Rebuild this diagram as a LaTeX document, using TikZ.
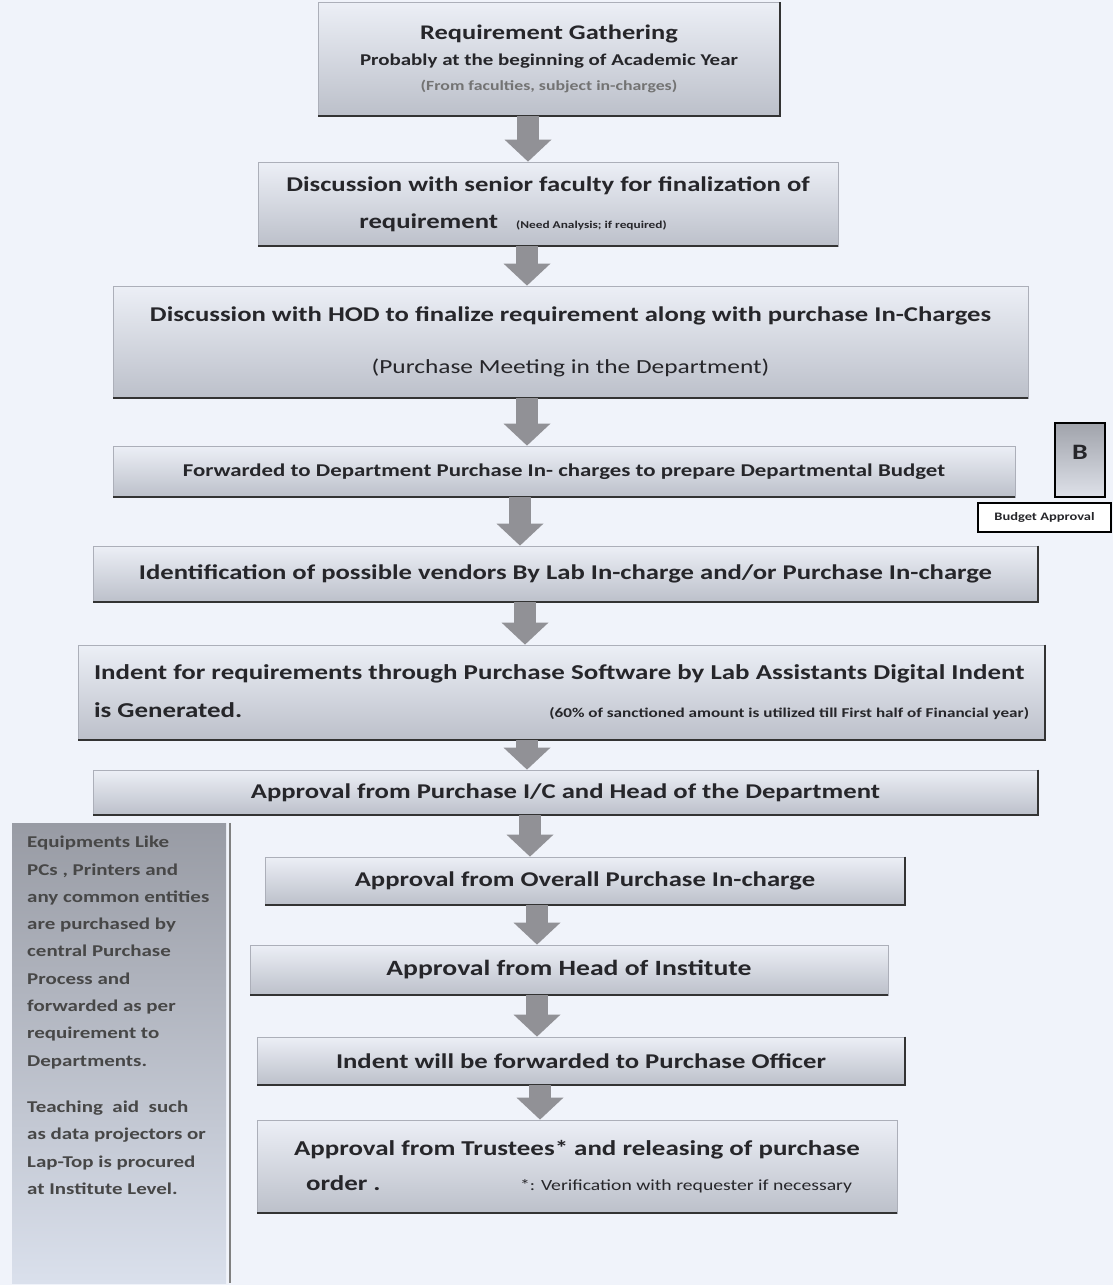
\documentclass[tikz,border=0pt]{standalone}
\usepackage{fontspec}
\setmainfont{Carlito}[FakeStretch=1.27]
\usetikzlibrary{arrows.meta}

\definecolor{paper}{RGB}{240,243,250}
\definecolor{boxtop}{RGB}{236,239,246}
\definecolor{boxbot}{RGB}{188,192,202}
\definecolor{boxline}{RGB}{172,175,185}
\definecolor{flowgray}{RGB}{145,145,150}
\definecolor{ink}{RGB}{38,38,42}
\newcommand\fsz[2]{\fontsize{#1}{#2}\selectfont}

\tikzset{
  stage/.style={rectangle, top color=boxtop, bottom color=boxbot, draw=boxline,
    line width=0.8pt, text=ink, font=\bfseries\fsz{21}{25}, inner sep=0pt, align=center},
  edge/.style={line width=2pt, black!80},
  flow/.style={line width=22pt, flowgray, -{Triangle[length=22pt,width=47pt,line width=0pt]}},
}

\begin{document}
\begin{tikzpicture}[x=1pt,y=-1pt]
  \fill[paper] (0,0) rectangle (1113,1285);
  \useasboundingbox (0,0) rectangle (1113,1285);

  % main column
  \node[stage, font=\bfseries\fsz{20.8}{25.5}, minimum width=462pt, minimum height=113pt] (gather) at (549,59)
    {Requirement Gathering\\
     \fsz{16.5}{25.5}Probably at the beginning of Academic Year\\
     \fsz{14}{25.5}\color{black!55}(From faculties, subject in-charges)};
  \node[stage, font=\bfseries\fsz{21}{37}, minimum width=580pt, minimum height=84pt] (discuss) at (548,204)
    {Discussion with senior faculty for finalization of\\
     requirement\hspace{18pt}{\fsz{10.5}{37}(Need Analysis; if required)}\hspace*{70pt}};
  \node[stage, font=\bfseries\fsz{21}{52}, minimum width=915pt, minimum height=112pt] (hodmeet) at (570.5,342)
    {Discussion with HOD to finalize requirement along with purchase In-Charges\\
     \mdseries\fsz{20}{52}(Purchase Meeting in the Department)};
  \node[stage, font=\bfseries\fsz{18}{22}, minimum width=902pt, minimum height=51pt] (forward) at (564,471.5)
    {Forwarded to Department Purchase In- charges to prepare Departmental Budget};
  \node[stage, minimum width=945pt, minimum height=56pt] (vendors) at (565.5,574)
    {Identification of possible vendors By Lab In-charge and/or Purchase In-charge};
  \node[stage, font=\bfseries\fsz{21.2}{38}, minimum width=967pt, minimum height=95pt, align=left] (indent) at (561.5,692.5)
    {Indent for requirements through Purchase Software by Lab Assistants Digital Indent\\
     \makebox[935pt][l]{is Generated.\hfill{\fsz{13.5}{38}(60\% of sanctioned amount is utilized till First half of Financial year)}}};
  \node[stage, minimum width=945pt, minimum height=45pt] (approvepic) at (565.5,792.5)
    {Approval from Purchase I/C and Head of the Department};
  \node[stage, minimum width=640pt, minimum height=48pt] (approveall) at (585,881)
    {Approval from Overall Purchase In-charge};
  \node[stage, font=\bfseries\fsz{21.8}{25}, minimum width=638pt, minimum height=50pt] (approvehead) at (569,970)
    {Approval from Head of Institute};
  \node[stage, minimum width=648pt, minimum height=48pt] (officer) at (581,1061)
    {Indent will be forwarded to Purchase Officer};
  \node[stage, font=\bfseries\fsz{21.2}{35}, minimum width=640pt, minimum height=93pt, align=left] (trustees) at (577,1166.5)
    {Approval from Trustees* and releasing of purchase\\
     \makebox[558pt][l]{\hspace{12pt}order .\hfill{\mdseries\fsz{15.5}{35}*: Verification with requester if necessary}}};

  % budget side
  \node[rectangle, top color={rgb,255:red,160;green,163;blue,171}, bottom color={rgb,255:red,222;green,225;blue,233},
    draw=black, line width=2pt, minimum width=50pt, minimum height=74pt, font=\bfseries\fsz{22}{26}, text=ink] (bbox) at (1080,460)
    {\raisebox{16pt}{B}};
  \node[rectangle, fill=white, draw=black, line width=1.5pt, minimum width=133pt, minimum height=29pt,
    font=\bfseries\fsz{11.4}{13}, text=ink] (budget) at (1044.5,517.5) {Budget Approval};

  % left note
  \node[rectangle, top color={rgb,255:red,152;green,155;blue,164}, bottom color={rgb,255:red,218;green,224;blue,236},
    minimum width=214pt, minimum height=460pt, inner sep=0pt] (side) at (119,1053) {};
  \draw[line width=2pt, gray] ([xshift=4pt]side.north east) -- ([xshift=4pt]side.south east);
  \node[anchor=north west, align=left, inner sep=0pt, font=\bfseries\fsz{16.5}{27.3}, text=black!72] (sidetext) at (27,836)
    {Equipments Like\\ PCs , Printers and\\ any common entities\\ are purchased by\\
     central Purchase\\ Process and\\ forwarded as per\\ requirement to\\ Departments.\\[19pt]
     Teaching\ \ aid\ \ such\\ as data projectors or\\ Lap-Top is procured\\ at Institute Level.};

  % shadow edges
  \foreach \n in {gather,vendors,indent,approvepic,approveall,officer}
    \draw[edge] (\n.north east) -- (\n.south east) -- (\n.south west);
  \foreach \n in {discuss,hodmeet,forward,approvehead,trustees}
    \draw[edge] (\n.south east) -- (\n.south west);

  % arrows
  \foreach \a/\b/\x in {gather/discuss/528,discuss/hodmeet/527,hodmeet/forward/527,
      forward/vendors/520,vendors/indent/525,indent/approvepic/527,approvepic/approveall/530,
      approveall/approvehead/537,approvehead/officer/537,officer/trustees/540}
    \draw[flow] (\a.south -| \x,0) -- (\b.north -| \x,0);
\end{tikzpicture}
\end{document}
